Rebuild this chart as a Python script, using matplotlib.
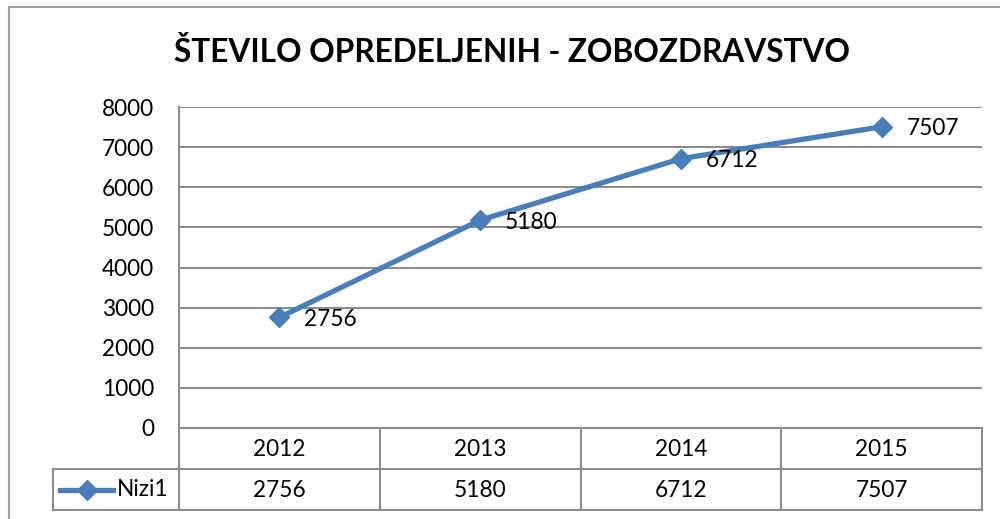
import matplotlib
matplotlib.use("Agg")
import matplotlib.pyplot as plt

plt.rcParams['font.family'] = ['Lato', 'DejaVu Sans']

title = "ŠTEVILO OPREDELJENIH - ZOBOZDRAVSTVO"
years = ["2012", "2013", "2014", "2015"]
values = [2756, 5180, 6712, 7507]
series_name = "Nizi1"
yticks = [0, 1000, 2000, 3000, 4000, 5000, 6000, 7000, 8000]

W, H = 1000, 519
fig = plt.figure(figsize=(W / 100, H / 100), dpi=100)
FS = 16.3

# plot area in pixel coordinates
L, R, T, B = 179, 982, 107, 428
ax = fig.add_axes([L / W, (H - B) / H, (R - L) / W, (B - T) / H])
grid_c = "#8c8c8c"
line_c = "#4a7ebb"
x = list(range(len(years)))
ax.set_xlim(-0.5, len(years) - 0.5)
ax.set_ylim(0, 8000)
ax.set_yticks(yticks)
ax.set_yticklabels([str(v) for v in yticks], fontsize=FS)
ax.tick_params(axis='y', length=0, pad=18)
ax.set_xticks([])
for s in ['top', 'right', 'bottom']:
    ax.spines[s].set_visible(False)
ax.spines['left'].set_color(grid_c)
ax.spines['left'].set_linewidth(1.5)
ax.grid(axis='y', color=grid_c, linewidth=1.5)
ax.set_axisbelow(True)
ax.plot(x, values, color=line_c, linewidth=3.8, marker='D', markersize=10,
        markerfacecolor=line_c, markeredgecolor=line_c, zorder=3)
for xi, v in zip(x, values):
    ax.annotate(str(v), (xi, v), xytext=(18, -1.5), textcoords='offset points',
                ha='left', va='center', fontsize=FS, color='black')

# overlay in pixel coordinates for table and frame
ov = fig.add_axes([0, 0, 1, 1], facecolor='none')
ov.set_xlim(0, W)
ov.set_ylim(H, 0)
ov.axis('off')

# chart frame
ov.plot([9, 9], [7, H], color="#a0a0a0", lw=1.5)
ov.plot([9, W], [7, 7], color="#a0a0a0", lw=1.5)

fig.text(0.512, 1 - 52 / H, title, ha='center', va='center',
         fontsize=22.8, fontweight='bold', color='black')

# data table
r0, r1, r2 = B, 469, 510
col_w = (R - L) / len(years)
tc = "#8c8c8c"
ov.plot([L, R], [r0, r0], color=tc, lw=1.5)
ov.plot([53, R], [r1, r1], color=tc, lw=1.5)
ov.plot([53, R], [r2, r2], color=tc, lw=1.5)
ov.plot([53, 53], [r1, r2], color=tc, lw=1.5)
for i in range(len(years) + 1):
    xx = L + i * col_w
    ov.plot([xx, xx], [r0, r2], color=tc, lw=1.5)
for i, (yr, v) in enumerate(zip(years, values)):
    cx = L + (i + 0.5) * col_w
    ov.text(cx, (r0 + r1) / 2 + 1, yr, ha='center', va='center', fontsize=FS)
    ov.text(cx, (r1 + r2) / 2 + 1, str(v), ha='center', va='center', fontsize=FS)
# legend key
ov.plot([60, 113], [490, 490], color=line_c, lw=3.8)
ov.plot([87], [490], marker='D', markersize=10, color=line_c)
ov.text(117, 490, series_name, ha='left', va='center', fontsize=FS)

fig.savefig("out.png", dpi=100)
